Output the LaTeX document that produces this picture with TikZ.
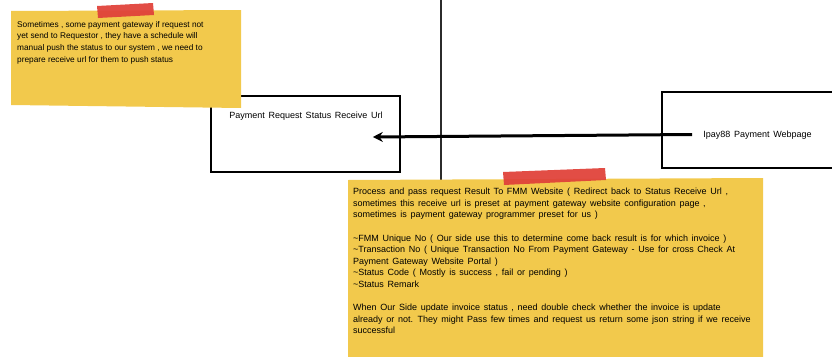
\documentclass[tikz,border=0pt]{standalone}
\usepackage{fontspec}
\setmainfont{Liberation Sans}
\usetikzlibrary{arrows.meta,positioning,calc}
\definecolor{notefill}{HTML}{F2C94C}
\definecolor{tapered}{HTML}{E0433B}
\definecolor{divline}{HTML}{2B2B2B}
\newcommand{\notefont}{\fontsize{9}{11.6}\selectfont\spaceskip=3.7pt plus 1pt minus 0.5pt\relax}
\tikzset{
  urlbox/.style={draw,line width=1.6pt,minimum height=76pt,inner sep=0pt},
  lbl/.style={font=\notefont,inner sep=0pt},
  notetxt/.style={lbl,align=left,anchor=north west},
  smallnote/.style={notetxt,font=\fontsize{8.3}{11.7}\selectfont},
  sticky/.style={fill=notefill},
  tape/.style={fill=tapered,opacity=0.95},
  arr/.style={-{Stealth[length=10pt,width=10pt]},line width=3pt},
  divider/.style={draw=divline,line width=1.3pt}
}

\begin{document}
\begin{tikzpicture}[x=1pt,y=-1pt]
  \useasboundingbox (0,0) rectangle (832,356);

  % swimlane divider
  \coordinate (divtop) at (441,-2);
  \coordinate (divbot) at (441,182);
  \draw[divider] (divtop) -- (divbot);

  % boxes
  \node[urlbox,minimum width=189pt] (recv) at (305.5,134) {};
  \node[lbl] (recvlbl) at (306,116) {Payment Request Status Receive Url};
  \node[urlbox,minimum width=190pt] (ipay) at (757,130) {};
  \node[lbl] (ipaylbl) at (757.5,135) {Ipay88 Payment Webpage};

  \draw[arr] ([xshift=-11pt,yshift=0.5pt]ipaylbl.west) -- ([xshift=-28pt,yshift=-3pt]recv.east);

  % note, top left
  \fill[sticky] (11,11) -- (241,10) -- (241,108) -- (11,105) -- cycle;
  \fill[tape] (97,6) -- (153,3) -- (154,15) -- (98,18) -- cycle;
  \node[smallnote] (note1) at (17,21) {Sometimes , some payment gateway if request not\\
    yet send to Requestor , they have a schedule will\\
    manual push the status to our system , we need to\\
    prepare receive url for them to push status};

  % note, bottom right
  \fill[sticky] (348,180) -- (763,178) -- (763,360) -- (348,360) -- cycle;
  \fill[tape] (503,172) -- (605,168) -- (606,180) -- (504,185) -- cycle;
  \node[notetxt] (note2) at (353,188) {Process and pass request Result To FMM Website ( Redirect back to Status Receive Url ,\\
    sometimes this receive url is preset at payment gateway website configuration page ,\\
    sometimes is payment gateway programmer preset for us )\\
    \mbox{}\\
    \textasciitilde FMM Unique No ( Our side use this to determine come back result is for which invoice )\\
    \textasciitilde Transaction No ( Unique Transaction No From Payment Gateway - Use for cross Check At\\
    Payment Gateway Website Portal )\\
    \textasciitilde Status Code ( Mostly is success , fail or pending )\\
    \textasciitilde Status Remark\\
    \mbox{}\\
    When Our Side update invoice status , need double check whether the invoice is update\\
    already or not. They might Pass few times and request us return some json string if we receive\\
    successful};
\end{tikzpicture}
\end{document}
